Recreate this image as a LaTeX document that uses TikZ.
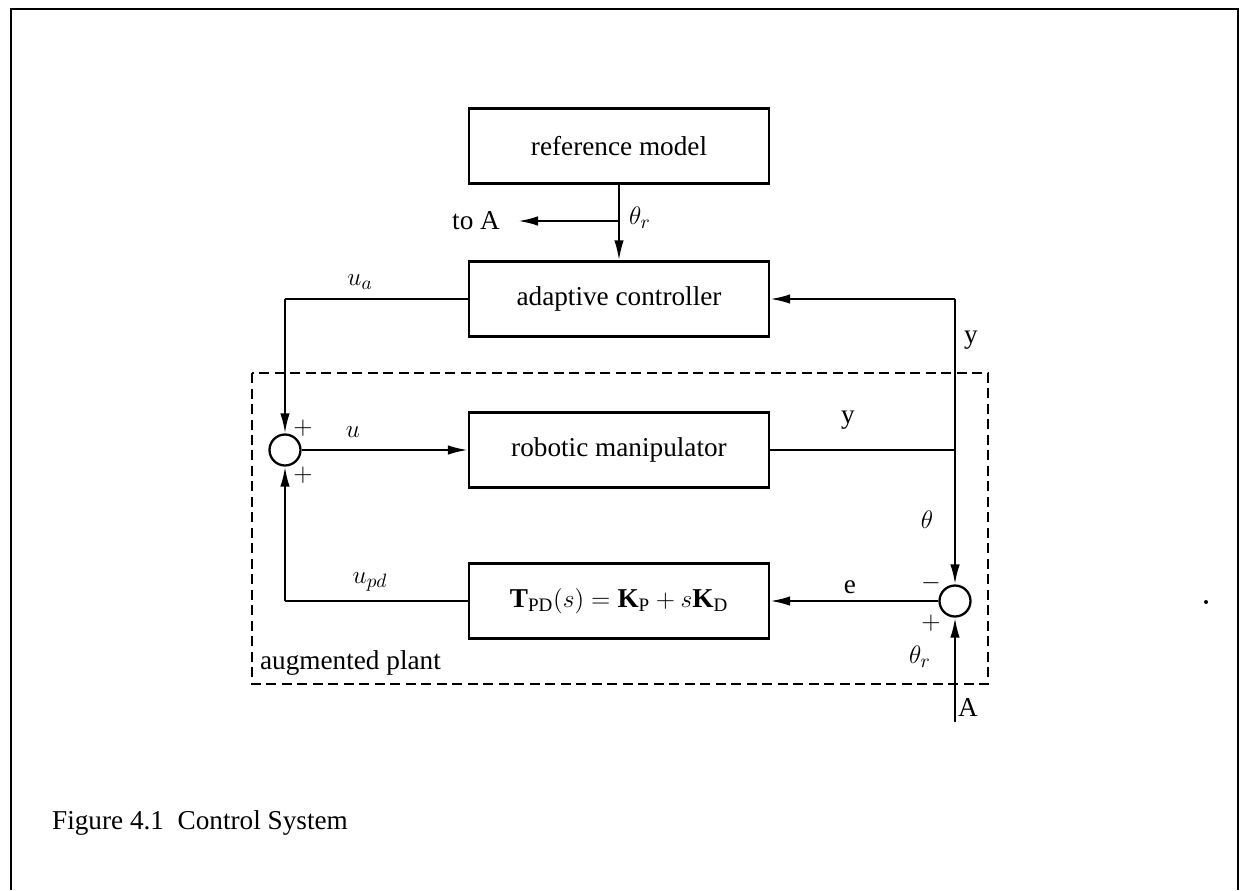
\documentclass[tikz,border=0pt]{standalone}
\usepackage{fontspec}
\setmainfont{Liberation Serif}
\usetikzlibrary{arrows.meta}
\begin{document}
\begin{tikzpicture}[x=0.02cm,y=-0.02cm,
  blk/.style={draw,line width=1.3pt,minimum width=6cm,minimum height=1.5cm,font=\fontsize{15.5}{17}\selectfont},
  sum/.style={draw,circle,line width=1.3pt,minimum size=0.62cm,inner sep=0pt},
  sig/.style={-{Latex[length=0.4cm,width=0.19cm]},line width=1.3pt},
  wire/.style={line width=1.3pt},
  lbl/.style={font=\fontsize{15.5}{17}\selectfont,inner sep=1pt}]
\useasboundingbox (0,0) rectangle (1243,890);
% page frame
\draw[line width=1.5pt] (11,890) -- (11,9) -- (1238,9) -- (1238,890);
% blocks
\node[blk](ref) at (619,146) {reference model};
\node[blk](ac) at (619,299) {adaptive controller};
\node[blk](rm) at (619,450) {robotic manipulator};
\node[blk](pd) at (619,601) {$\mathbf{T}_{\mathrm{PD}}(s)=\mathbf{K}_{\mathrm{P}}+s\mathbf{K}_{\mathrm{D}}$};
\node[sum](s1) at (285,450) {};
\node[sum](s2) at (955,601) {};
% augmented plant
\draw[line width=1.3pt,dash pattern=on 0.2cm off 0.11cm] (252,373) rectangle (988,684);
\node[lbl,anchor=west](ap) at (258,663) {augmented plant};
% points
\coordinate (br) at (619,221);
\coordinate (toA) at (518,221);
\coordinate (c1) at (285,299);
\coordinate (c2) at (285,601);
\coordinate (fb) at (955,299);
\coordinate (j) at (955,450);
\coordinate (A) at (955,722);
% signals
\draw[sig] (ref) -- (ac);
\draw[sig] (br) -- (toA);
\draw[wire] (ac.west) -- (c1);
\draw[sig] (c1) -- (s1.north);
\draw[sig] (s1.east) -- (rm.west);
\draw[wire] (rm.east) -- (j);
\draw[sig] (fb) -- (ac.east);
\draw[sig] (fb) -- (s2.north);
\draw[sig] (s2.west) -- (pd.east);
\draw[wire] (pd.west) -- (c2);
\draw[sig] (c2) -- (s1.south);
\draw[sig] (A) -- (s2.south);
% labels
\node[lbl,anchor=east] at (502,221) {to A};
\node[lbl] at (640,218) {$\theta_r$};
\node[lbl] at (360,282) {$u_a$};
\node[lbl] at (353,432) {$u$};
\node[lbl] at (370,582) {$u_{pd}$};
\node[lbl] at (303,428) {$+$};
\node[lbl] at (303,475) {$+$};
\node[lbl] at (848,420) {y};
\node[lbl] at (971,340) {y};
\node[lbl] at (927,520) {$\theta$};
\node[lbl] at (850,587) {e};
\node[lbl] at (931,583) {$-$};
\node[lbl] at (931,623) {$+$};
\node[lbl] at (920,657) {$\theta_r$};
\node[lbl] at (968,707) {A};
\fill (1206,602) circle (2);
% caption
\node[lbl,anchor=west] at (50,823) {Figure 4.1\enspace Control System};
\end{tikzpicture}
\end{document}
